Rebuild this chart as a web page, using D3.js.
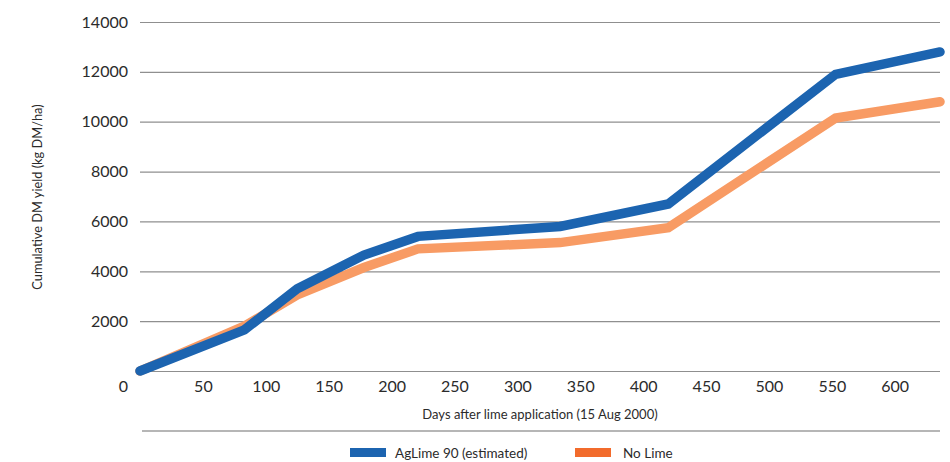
<!DOCTYPE html>
<html>
<head>
<meta charset="utf-8">
<script src="https://cdn.jsdelivr.net/npm/d3@7/dist/d3.min.js"></script>
<style>
  html, body { margin: 0; padding: 0; background: #fff; }
  svg { display: block; font-family: Lato, "Open Sans", sans-serif; }
</style>
</head>
<body>
<svg id="chart" width="950" height="462"></svg>
<script>
// Cumulative dry-matter yield after liming
const days = [0, 83, 125, 178, 221, 334, 420, 553, 636];
const agLime = [0, 1650, 3300, 4650, 5400, 5800, 6700, 11900, 12800];
const noLime = [0, 1800, 3050, 4150, 4900, 5150, 5750, 10150, 10800];
const seriesNames = ["AgLime 90 (estimated)", "No Lime"];
const xTicks = [50, 100, 150, 200, 250, 300, 350, 400, 450, 500, 550, 600];
const yTicks = [0, 2000, 4000, 6000, 8000, 10000, 12000, 14000];

const lineColors = ["#1c64b0", "#f89b64"];
const legendColors = ["#1c64b0", "#f26b2c"];

const svg = d3.select("#chart");
const plotLeft = 140, plotRight = 940, plotTop = 22, plotBottom = 371;

const x = d3.scaleLinear().domain([0, 636]).range([plotLeft, plotRight]);
const y = d3.scaleLinear().domain([0, 14000]).range([plotBottom, plotTop]);

// Horizontal grid + y tick labels
const yAxis = svg.append("g")
  .attr("transform", `translate(${plotLeft},0)`)
  .call(d3.axisLeft(y).tickValues(yTicks).tickSize(-(plotRight - plotLeft)).tickPadding(12).tickFormat(d3.format("d")));
yAxis.select(".domain").remove();
yAxis.selectAll(".tick line").attr("stroke", "#8f8f8f").attr("stroke-width", 1.2);
yAxis.selectAll(".tick text")
  .attr("fill", "#2b2b2b").attr("font-size", 16).attr("font-family", "Lato, sans-serif")
  .attr("dy", d => d === 0 ? "1.3em" : "0.32em");

// X tick labels
const xAxis = svg.append("g")
  .attr("transform", `translate(0,${plotBottom})`)
  .call(d3.axisBottom(x).tickValues(xTicks).tickSize(0).tickPadding(10));
xAxis.select(".domain").remove();
xAxis.selectAll(".tick text")
  .attr("fill", "#2b2b2b").attr("font-size", 16).attr("font-family", "Lato, sans-serif");

// Axis titles
svg.append("text")
  .attr("x", 540).attr("y", 419)
  .attr("text-anchor", "middle")
  .attr("font-size", 13).attr("fill", "#2b2b2b")
  .text("Days after lime application (15 Aug 2000)");

svg.append("text")
  .attr("transform", "translate(42,197) rotate(-90)")
  .attr("text-anchor", "middle")
  .attr("font-size", 12.8).attr("fill", "#2b2b2b")
  .text("Cumulative DM yield (kg DM/ha)");

// Separator rule above legend
svg.append("line")
  .attr("x1", 142).attr("x2", plotRight)
  .attr("y1", 431).attr("y2", 431)
  .attr("stroke", "#6f6f6f").attr("stroke-width", 1.2);

// Lines (No Lime underneath)
const line = d3.line().x((d, i) => x(days[i])).y(d => y(d));
[[noLime, lineColors[1]], [agLime, lineColors[0]]].forEach(([vals, col]) => {
  svg.append("path")
    .datum(vals)
    .attr("d", line)
    .attr("fill", "none")
    .attr("stroke", col)
    .attr("stroke-width", 9.5)
    .attr("stroke-linecap", "round")
    .attr("stroke-linejoin", "miter");
});

// Legend
const legendX = [350, 575];
seriesNames.forEach((name, i) => {
  const g = svg.append("g").attr("transform", `translate(${legendX[i]},448)`);
  g.append("rect").attr("width", 36).attr("height", 9).attr("fill", legendColors[i]);
  g.append("text")
    .attr("x", i === 0 ? 45 : 48).attr("y", 9.5)
    .attr("font-size", 13.5).attr("fill", "#2b2b2b")
    .text(name);
});
</script>
</body>
</html>
